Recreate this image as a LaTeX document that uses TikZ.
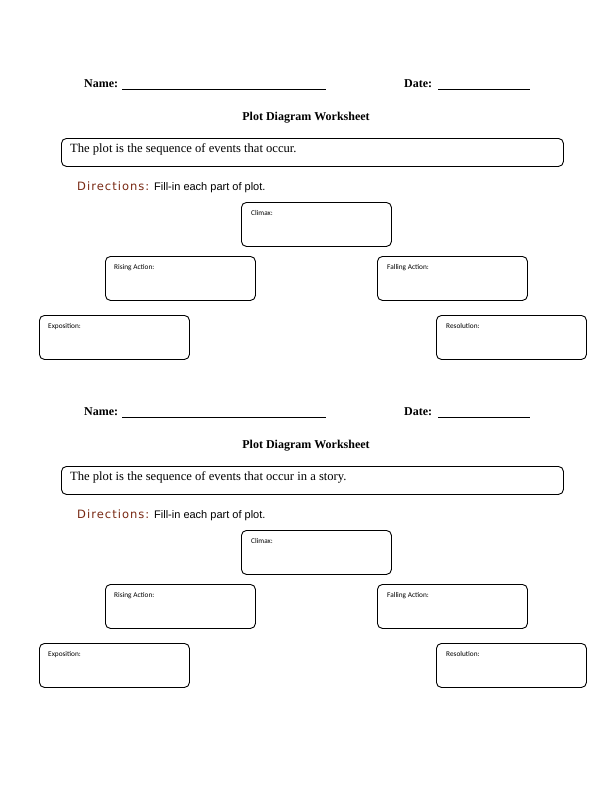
\documentclass[tikz,border=0pt]{standalone}
\usepackage{fontspec}
\setmainfont{Liberation Serif}
\newfontfamily\dirfont[LetterSpace=9]{DejaVu Sans}
\newfontfamily\fillfont{Liberation Sans}
\newfontfamily\labfont{Carlito}
\definecolor{dircol}{RGB}{120,40,18}
\tikzset{
  headtxt/.style={font=\bfseries\fontsize{12}{14}\selectfont, inner sep=0pt, anchor=base west},
  titletxt/.style={font=\bfseries\fontsize{12}{14}\selectfont, inner sep=0pt, anchor=base},
  bodytxt/.style={font=\fontsize{12.6}{14}\selectfont, inner sep=0pt, anchor=base west},
  dirtxt/.style={font=\dirfont\fontsize{11.5}{13}\selectfont, text=dircol, inner sep=0pt, anchor=base west},
  filltxt/.style={font=\fillfont\fontsize{11}{13}\selectfont, inner sep=0pt, anchor=base west},
  labtxt/.style={font=\labfont\fontsize{7.3}{9}\selectfont, inner sep=0pt, anchor=base west},
  partbox/.style={draw, line width=0.9pt, rounded corners=5pt, minimum width=150pt, minimum height=44pt, anchor=north west, inner sep=0pt},
  sentbox/.style={draw, line width=0.9pt, rounded corners=5pt, minimum width=502pt, minimum height=28pt, anchor=north west, inner sep=0pt},
  rule/.style={line width=0.8pt}
}
\newcommand{\plotsheet}[3]{%
  % #1 = vertical offset, #2 = sentence, #3 = name suffix
  \begin{scope}[yshift=-#1pt]
    \node[headtxt] (name#3) at (84,-87) {Name:};
    \coordinate (nameA#3) at (122,-89);
    \coordinate (nameB#3) at (326,-89);
    \draw[rule] (nameA#3) -- (nameB#3);
    \node[headtxt] (date#3) at (404,-87) {Date:};
    \coordinate (dateA#3) at (438,-89);
    \coordinate (dateB#3) at (530,-89);
    \draw[rule] (dateA#3) -- (dateB#3);
    \node[titletxt] (title#3) at (306,-120) {Plot Diagram Worksheet};
    \node[sentbox] (sent#3) at (61,-138) {};
    \node[bodytxt] (senttxt#3) at (70,-152) {#2};
    \node[dirtxt] (dir#3) at (77,-190) {Directions:};
    \node[filltxt] (fill#3) at (154,-190) {Fill-in each part of plot.};
    \node[partbox] (climax#3) at (241,-202) {};
    \node[labtxt] (climaxl#3) at (251,-215) {Climax:};
    \node[partbox] (rising#3) at (105,-256) {};
    \node[labtxt] (risingl#3) at (114,-269) {Rising Action:};
    \node[partbox] (falling#3) at (377,-256) {};
    \node[labtxt] (fallingl#3) at (387,-269) {Falling Action:};
    \node[partbox] (expo#3) at (39,-315) {};
    \node[labtxt] (expol#3) at (48,-328) {Exposition:};
    \node[partbox] (reso#3) at (436,-315) {};
    \node[labtxt] (resol#3) at (446,-328) {Resolution:};
  \end{scope}}
\begin{document}
\begin{tikzpicture}[x=1pt,y=1pt]
\useasboundingbox (0,0) rectangle (612,-792);
\plotsheet{0}{The plot is the sequence of events that occur.}{a}
\plotsheet{328}{The plot is the sequence of events that occur in a story.}{b}
\end{tikzpicture}
\end{document}
